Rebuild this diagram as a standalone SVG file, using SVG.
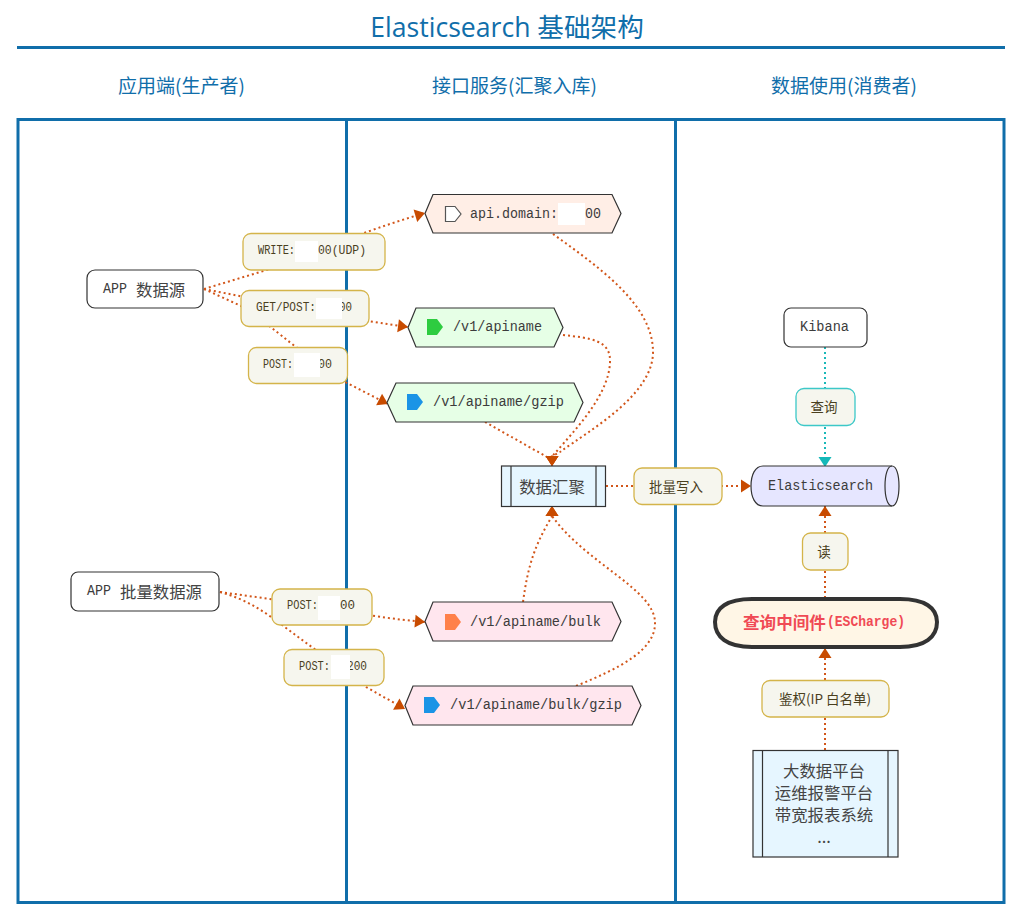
<svg xmlns="http://www.w3.org/2000/svg" width="1023" height="920" viewBox="0 0 1023 920">
<style>
text{font-family:"Liberation Mono","Noto Sans CJK SC",monospace;fill:#333;text-anchor:middle;dominant-baseline:central}
.title{font-family:"Open Sans","Noto Sans CJK SC",sans-serif;font-size:26.600px;fill:#106eaa}
.hdr{font-family:"Noto Sans CJK SC",sans-serif;font-size:19px;fill:#106eaa;font-weight:400}
.pool{fill:none;stroke:#106eaa;stroke-width:3}
.n{fill:#fff;stroke:#333;stroke-width:1.2}
.t{font-size:15.500px;text-anchor:start;fill:#3c3c3c}
.cj{font-family:"Noto Sans CJK SC",sans-serif;font-size:16.400px;fill:#444}
.lab{fill:#f6f6ee;stroke:#d4b44a;stroke-width:1.3}
.lt{font-size:12.500px;fill:#4a3f1e;text-anchor:start}
.lc{font-family:"Noto Sans CJK SC",sans-serif;font-size:13.500px;fill:#4a3f1e}
.hole{fill:#fff}
.s{text-anchor:start}
.red{fill:#f04a55;font-weight:700;text-anchor:start}
.c{fill:none;stroke:#d2561a;stroke-width:2;stroke-dasharray:2 3}
.k{stroke:#1ab8b8}
</style>
<defs>
<marker id="a" markerUnits="userSpaceOnUse" markerWidth="12" markerHeight="14" refX="11" refY="7" orient="auto"><path d="M1 .5L11 7L1 13.500Z" fill="#c84b00"/></marker>
<marker id="b" markerUnits="userSpaceOnUse" markerWidth="12" markerHeight="14" refX="11" refY="7" orient="auto"><path d="M1 .5L11 7L1 13.500Z" fill="#14b8b8"/></marker>
</defs>
<rect width="1023" height="920" fill="#fff"/>
<text class="title" x="507" y="27">Elasticsearch 基础架构</text>
<path d="M17 47.500H1005" class="pool"/>
<text class="hdr" x="181.500" y="84.500">应用端(生产者)</text>
<text class="hdr" x="514.500" y="84.500">接口服务(汇聚入库)</text>
<text class="hdr" x="844" y="84.500">数据使用(消费者)</text>
<g id="pools"><rect class="pool" x="18" y="119.500" width="986" height="783"/><path class="pool" d="M346.500 119V903M675.500 119V903"/></g>
<g id="connectors">
<path class="c" marker-end="url(#a)" d="M204 289L270 269C300 258 360 232 425 213"/>
<path class="c" marker-end="url(#a)" d="M204 289L300 308C340 316 370 322 408 327"/>
<path class="c" marker-end="url(#a)" d="M204 289L241 306C262 317 295 350 345 382L388 404"/>
<path class="c" marker-end="url(#a)" d="M553 234C600 268 653 305 653 352C653 395 590 430 560 452L552 456.500V466"/>
<path class="c" marker-end="url(#a)" d="M563 335C590 338 611 340 610 362C609 395 575 430 556 452L552 456.500V466"/>
<path class="c" marker-end="url(#a)" d="M485 422L547 457L552 456.500V466"/>
<path class="c" marker-end="url(#a)" d="M606 486H751"/>
<path class="c k" marker-end="url(#b)" d="M825 347V467"/>
<path class="c" marker-end="url(#a)" d="M523 602C528 565 535 545 551 518L552 516V506"/>
<path class="c" marker-end="url(#a)" d="M576 686C620 668 656 650 655 622C654 590 590 565 555 520L552 516V506"/>
<path class="c" marker-end="url(#a)" d="M825 598V506"/>
<path class="c" marker-end="url(#a)" d="M825 750V648"/>
<path class="c" marker-end="url(#a)" d="M220 592L320 606C350 612 380 618 425 622"/>
<path class="c" marker-end="url(#a)" d="M220 592C248 600 265 612 286 628L366 687L405 709"/>
</g>
<g id="app-source"><rect class="n" x="87" y="270" width="116" height="38" rx="8"/><text class="t" x="103" y="289" textLength="24" lengthAdjust="spacingAndGlyphs">APP</text><text class="cj s" x="136" y="288.500">数据源</text></g>
<g id="api-domain"><path class="n" style="fill:#ffeee6" d="M425 213.500L433 194.500H612L621 213.500L612 233H433Z"/><path d="M445.500 206.500H455L461 214L455 221.500H445.500Z" fill="#fff" stroke="#555" stroke-width="1.200"/><text class="t" x="470" y="214" textLength="88" lengthAdjust="spacingAndGlyphs">api.domain:</text><text class="t" x="585" y="214" textLength="16" lengthAdjust="spacingAndGlyphs">00</text><rect class="hole" x="558" y="203" width="27" height="22"/></g>
<g id="apiname"><path class="n" style="fill:#e6ffe6" d="M408 327.500L416 308H554L563 327.500L554 347H416Z"/><path d="M427 319H437L443 327L437 335H427Z" fill="#2ecc40"/><text class="t" x="453" y="327" textLength="89" lengthAdjust="spacingAndGlyphs">/v1/apiname</text></g>
<g id="apiname-gzip"><path class="n" style="fill:#e6ffe6" d="M387 402.500L396 383H574L583 402.500L574 422H396Z"/><path d="M407 394H417L423 402L417 410H407Z" fill="#1a94e6"/><text class="t" x="433" y="402" textLength="131" lengthAdjust="spacingAndGlyphs">/v1/apiname/gzip</text></g>
<g id="collect"><rect class="n" style="fill:#e6f6ff" x="501.500" y="466" width="104" height="40.500"/><path class="n" d="M511 466V506M596 466V506"/><text class="cj" x="552" y="485.500">数据汇聚</text></g>
<g id="elasticsearch"><path class="n" style="fill:#e6e6ff" d="M763 466H892C896.500 466 899 475 899 486C899 497 896.500 506 892 506H763C755 506 751 497 751 486C751 475 755 466 763 466Z"/><path class="n" style="fill:none" d="M892 466C887.500 466 885 475 885 486C885 497 887.500 506 892 506"/><text class="t" x="768" y="486" textLength="105" lengthAdjust="spacingAndGlyphs">Elasticsearch</text></g>
<g id="kibana"><rect class="n" x="784" y="308" width="83" height="39" rx="7"/><text class="t" x="800" y="327" textLength="49" lengthAdjust="spacingAndGlyphs">Kibana</text></g>
<g id="middleware"><path d="M752 599H900C925 599 937 608 937 622C937 637 925 647 900 647H752C727 647 715 637 715 622C715 608 727 599 752 599Z" fill="#fff6e6" stroke="#333" stroke-width="4"/><text class="cj red" x="743" y="621.500" style="font-size:16.600px">查询中间件</text><text class="red" x="827" y="622" style="font-size:15.500px" textLength="78" lengthAdjust="spacingAndGlyphs">(ESCharge)</text></g>
<g id="platforms"><rect class="n" style="fill:#e6f6ff" x="753" y="750.500" width="145" height="106.500"/><path class="n" d="M762.500 750V857M888 750V857"/><text class="cj" x="824" y="770">大数据平台</text><text class="cj" x="824" y="792">运维报警平台</text><text class="cj" x="824" y="814">带宽报表系统</text><text class="cj" x="824" y="836">...</text></g>
<g id="app-batch"><rect class="n" x="71" y="572" width="148" height="39" rx="7"/><text class="t" x="87" y="591" textLength="24" lengthAdjust="spacingAndGlyphs">APP</text><text class="cj s" x="120" y="590.500">批量数据源</text></g>
<g id="bulk"><path class="n" style="fill:#ffe6ee" d="M425 621.500L433 602H612L621 621.500L612 641H433Z"/><path d="M445 614H455L461 622L455 630H445Z" fill="#ff814a"/><text class="t" x="470" y="622" textLength="131" lengthAdjust="spacingAndGlyphs">/v1/apiname/bulk</text></g>
<g id="bulk-gzip"><path class="n" style="fill:#ffe6ee" d="M405 705.500L413 686H632L641 705.500L632 725H413Z"/><path d="M424 697H434L440 705L434 713H424Z" fill="#1a94e6"/><text class="t" x="450" y="705" textLength="172" lengthAdjust="spacingAndGlyphs">/v1/apiname/bulk/gzip</text></g>
<g id="labels">
<g id="l-write"><rect class="lab" x="243" y="233.500" width="142" height="36.500" rx="8"/><text class="lt" x="258" y="251" textLength="37" lengthAdjust="spacingAndGlyphs">WRITE:</text><text class="lt" x="318" y="251" textLength="48" lengthAdjust="spacingAndGlyphs">00(UDP)</text><rect class="hole" x="295" y="241" width="23" height="21"/></g>
<g id="l-get"><rect class="lab" x="241" y="290.500" width="128" height="36" rx="8"/><text class="lt" x="256" y="308" textLength="60" lengthAdjust="spacingAndGlyphs">GET/POST:</text><text class="lt" x="339" y="308" textLength="13" lengthAdjust="spacingAndGlyphs">00</text><rect class="hole" x="316" y="298" width="26" height="21"/></g>
<g id="l-post"><rect class="lab" x="248.500" y="347.500" width="99" height="36" rx="8"/><text class="lt" x="263" y="365" textLength="30" lengthAdjust="spacingAndGlyphs">POST:</text><text class="lt" x="318" y="365" textLength="14" lengthAdjust="spacingAndGlyphs">00</text><rect class="hole" x="294" y="353" width="26" height="24"/></g>
<g id="l-bulk1"><rect class="lab" x="272" y="589" width="100" height="36" rx="8"/><text class="lt" x="287" y="606" textLength="31" lengthAdjust="spacingAndGlyphs">POST:</text><text class="lt" x="340" y="606" textLength="15" lengthAdjust="spacingAndGlyphs">00</text><rect class="hole" x="318" y="596" width="22" height="24"/></g>
<g id="l-bulk2"><rect class="lab" x="284" y="649.500" width="100" height="36" rx="8"/><text class="lt" x="299" y="667" textLength="31" lengthAdjust="spacingAndGlyphs">POST:</text><text class="lt" x="347" y="667" textLength="20" lengthAdjust="spacingAndGlyphs">200</text><rect class="hole" x="331" y="655" width="19" height="24"/></g>
<g id="l-write2"><rect class="lab" x="634" y="468" width="88" height="36.500" rx="8"/><text class="lc" x="676" y="485.500">批量写入</text></g>
<g id="l-query"><rect class="lab" style="stroke:#3cc8c8" x="796" y="388.500" width="59" height="37" rx="8"/><text class="lc" x="824" y="406">查询</text></g>
<g id="l-read"><rect class="lab" x="802.500" y="533" width="45.500" height="37" rx="8"/><text class="lc" x="824" y="551">读</text></g>
<g id="l-auth"><rect class="lab" x="762" y="680.500" width="127" height="36.500" rx="8"/><text class="lc" x="825" y="698">鉴权(IP 白名单)</text></g>
</g>
</svg>
